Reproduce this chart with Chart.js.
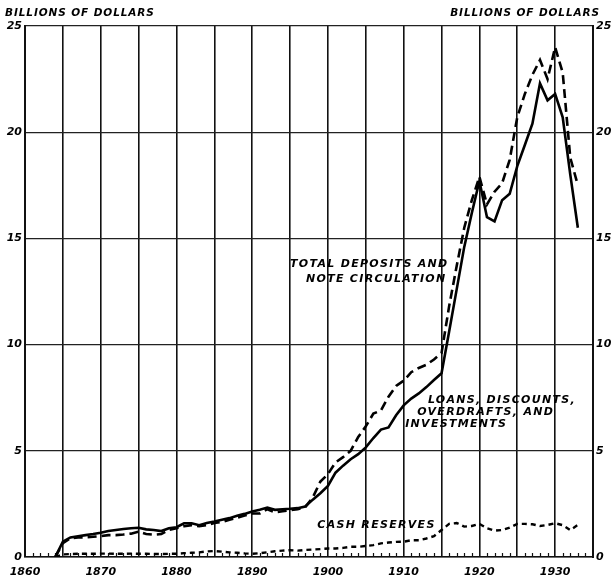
<!DOCTYPE html>
<html>
<head>
<meta charset="utf-8">
<script src="https://cdn.jsdelivr.net/npm/chart.js@4"></script>
<style>
html, body { margin: 0; padding: 0; background: #fff; }
#wrap { width: 615px; height: 579px; }
</style>
</head>
<body>
<div id="wrap"><canvas id="chart" width="615" height="579"></canvas></div>
<script>
// years plotted (annual figures)
const years = [1864, 1865, 1866, 1867, 1868, 1869, 1870, 1871, 1872, 1873,
    1874, 1875, 1876, 1877, 1878, 1879, 1880, 1881, 1882, 1883,
    1884, 1885, 1886, 1887, 1888, 1889, 1890, 1891, 1892, 1893,
    1894, 1895, 1896, 1897, 1898, 1899, 1900, 1901, 1902, 1903,
    1904, 1905, 1906, 1907, 1908, 1909, 1910, 1911, 1912, 1913,
    1914, 1915, 1916, 1917, 1918, 1919, 1920, 1921, 1922, 1923,
    1924, 1925, 1926, 1927, 1928, 1929, 1930, 1931, 1932, 1933];

// billions of dollars
const totalDeposits = [0, 0.65, 0.88, 0.92, 0.92, 0.95, 0.98, 1.03, 1.03, 1.06,
    1.10, 1.19, 1.08, 1.05, 1.08, 1.28, 1.35, 1.45, 1.50, 1.45,
    1.50, 1.60, 1.65, 1.75, 1.85, 1.95, 2.05, 2.05, 2.25, 2.10,
    2.15, 2.20, 2.25, 2.35, 2.80, 3.55, 3.90, 4.45, 4.70, 5.00,
    5.65, 6.15, 6.75, 6.90, 7.55, 8.05, 8.30, 8.70, 8.90, 9.05,
    9.30, 9.60, 11.8, 13.7, 15.5, 16.8, 17.9, 16.6, 17.2, 17.6,
    18.7, 20.7, 21.8, 22.7, 23.4, 22.5, 24.0, 22.8, 18.8, 17.5];

const loans = [0, 0.72, 0.92, 0.98, 1.03, 1.08, 1.14, 1.22, 1.27, 1.32,
    1.35, 1.38, 1.30, 1.27, 1.22, 1.35, 1.40, 1.59, 1.59, 1.50,
    1.60, 1.67, 1.75, 1.83, 1.94, 2.03, 2.14, 2.22, 2.33, 2.22,
    2.25, 2.27, 2.30, 2.38, 2.70, 3.00, 3.35, 3.97, 4.30, 4.60,
    4.84, 5.16, 5.60, 6.00, 6.10, 6.67, 7.14, 7.46, 7.70, 8.00,
    8.33, 8.65, 10.6, 12.6, 14.6, 16.2, 17.7, 16.0, 15.8, 16.8,
    17.1, 18.4, 19.4, 20.4, 22.3, 21.5, 21.8, 20.7, 18.0, 15.5];

const cashReserves = [0, 0.12, 0.14, 0.15, 0.15, 0.15, 0.16, 0.16, 0.15, 0.15,
    0.16, 0.15, 0.15, 0.14, 0.14, 0.15, 0.15, 0.18, 0.20, 0.22,
    0.26, 0.28, 0.25, 0.22, 0.20, 0.17, 0.15, 0.18, 0.22, 0.27,
    0.30, 0.32, 0.30, 0.33, 0.35, 0.37, 0.40, 0.40, 0.43, 0.48,
    0.48, 0.52, 0.56, 0.64, 0.68, 0.71, 0.72, 0.79, 0.79, 0.87,
    0.98, 1.27, 1.56, 1.60, 1.43, 1.46, 1.56, 1.35, 1.24, 1.27,
    1.38, 1.56, 1.56, 1.54, 1.46, 1.51, 1.59, 1.50, 1.27, 1.51];

const yLabel = 'BILLIONS OF DOLLARS';

// chart text labels, placed in data units (year, billions)
const notes = [
    { text: 'TOTAL DEPOSITS AND', x: 1895.0, y: 13.8 },
    { text: 'NOTE CIRCULATION', x: 1897.1, y: 13.1 },
    { text: 'LOANS, DISCOUNTS,', x: 1913.2, y: 7.38 },
    { text: 'OVERDRAFTS, AND', x: 1911.8, y: 6.84 },
    { text: 'INVESTMENTS', x: 1910.2, y: 6.27 },
    { text: 'CASH RESERVES', x: 1898.6, y: 1.5 }
];

const toPoints = vals => vals.map((v, i) => ({ x: years[i], y: v }));
const labelFont = { family: '"DejaVu Sans"', size: 11, style: 'italic', weight: 'bold' };

const extras = {
    id: 'extras',
    beforeDatasetsDraw(chart) {
        const { ctx, scales: { x }, chartArea: a } = chart;
        ctx.save();
        // small yearly ticks along the base line
        ctx.strokeStyle = '#111';
        ctx.lineWidth = 1.2;
        for (let yr = 1861; yr < 1935; yr++) {
            if (yr % 5 === 0) continue;
            const px = Math.round(x.getPixelForValue(yr)) + 0.5;
            ctx.beginPath();
            ctx.moveTo(px, a.bottom);
            ctx.lineTo(px, a.bottom - 4);
            ctx.stroke();
        }
        ctx.restore();
    },
    afterDraw(chart) {
        const { ctx, scales: { x, y } } = chart;
        ctx.save();
        ctx.fillStyle = '#000';
        ctx.textBaseline = 'middle';
        ctx.font = 'italic bold 10.5px "DejaVu Sans"';
        ctx.letterSpacing = '0.9px';
        ctx.textAlign = 'left';
        ctx.fillText(yLabel, 5, 13);
        ctx.textAlign = 'right';
        ctx.fillText(yLabel, 600, 13);
        ctx.font = 'italic bold 11px "DejaVu Sans"';
        ctx.letterSpacing = '1.3px';
        ctx.textAlign = 'left';
        notes.forEach(n => {
            ctx.fillText(n.text, x.getPixelForValue(n.x), y.getPixelForValue(n.y));
        });
        ctx.restore();
    }
};

new Chart(document.getElementById('chart'), {
    type: 'line',
    data: {
        datasets: [{
            label: 'Total deposits and note circulation',
            data: toPoints(totalDeposits),
            borderColor: '#000',
            borderWidth: 2.6,
            borderDash: [9, 5],
            pointRadius: 0,
            tension: 0
        }, {
            label: 'Loans, discounts, overdrafts, and investments',
            data: toPoints(loans),
            borderColor: '#000',
            borderWidth: 2.6,
            pointRadius: 0,
            tension: 0
        }, {
            label: 'Cash reserves',
            data: toPoints(cashReserves),
            borderColor: '#000',
            borderWidth: 2.4,
            borderDash: [5, 4],
            pointRadius: 0,
            tension: 0
        }]
    },
    options: {
        responsive: false,
        animation: false,
        layout: { padding: { top: 26, left: 0, right: 0, bottom: 0 } },
        plugins: { legend: { display: false }, tooltip: { enabled: false } },
        scales: {
            x: {
                type: 'linear',
                min: 1860,
                max: 1935,
                afterFit: s => { s.height = 22; },
                grid: { color: '#111', lineWidth: 1.6, drawTicks: false },
                border: { color: '#111', width: 1.6 },
                ticks: {
                    stepSize: 5,
                    autoSkip: false,
                    maxRotation: 0,
                    padding: 9,
                    color: '#000',
                    font: labelFont,
                    callback: v => (v % 10 === 0 && v < 1935 ? String(v) : '')
                }
            },
            y: {
                min: 0,
                max: 25,
                position: 'left',
                afterFit: s => { s.width = 25; },
                grid: { color: '#222', lineWidth: 1.2, drawTicks: false },
                border: { color: '#111', width: 2 },
                ticks: { stepSize: 5, padding: 3, color: '#000', font: labelFont }
            },
            y2: {
                min: 0,
                max: 25,
                position: 'right',
                afterFit: s => { s.width = 22; },
                grid: { drawOnChartArea: false, drawTicks: false },
                border: { color: '#111', width: 2 },
                ticks: { stepSize: 5, padding: 3, color: '#000', font: labelFont }
            }
        }
    },
    plugins: [extras]
});
</script>
</body>
</html>
